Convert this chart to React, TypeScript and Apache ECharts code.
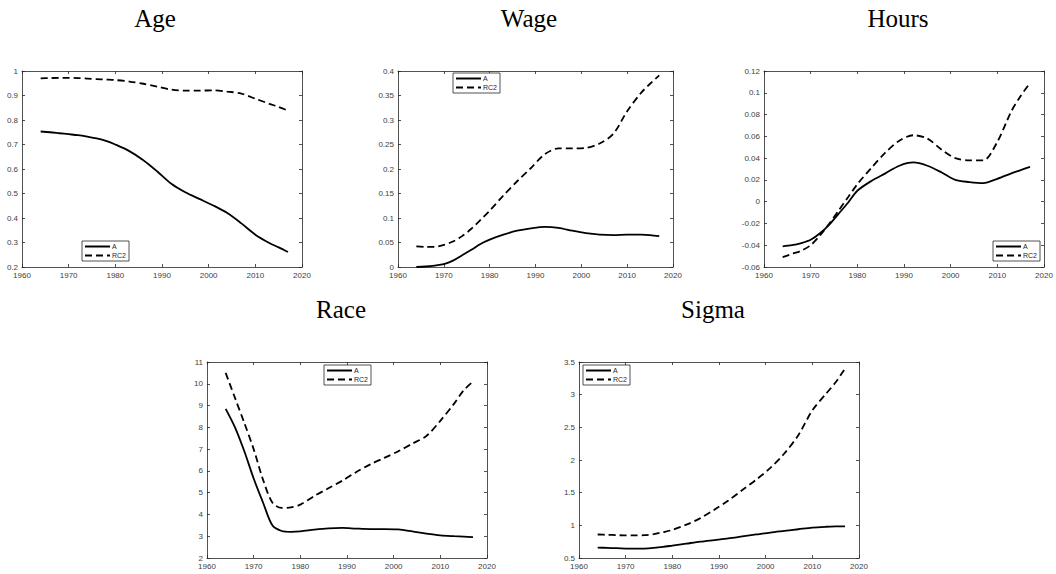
import React, { useEffect, useRef } from "react";
import * as echarts from "echarts";

const years = [1964, 1966, 1968, 1970, 1972, 1974, 1976, 1978, 1980, 1983, 1986, 1989, 1992, 1995, 1998, 2001, 2004, 2007, 2010, 2013, 2015, 2017];

const ageA = [0.753, 0.75, 0.746, 0.742, 0.738, 0.732, 0.725, 0.715, 0.7, 0.673, 0.636, 0.59, 0.54, 0.505, 0.478, 0.451, 0.42, 0.378, 0.332, 0.298, 0.28, 0.261];
const ageRC2 = [0.97, 0.971, 0.972, 0.972, 0.971, 0.969, 0.967, 0.965, 0.963, 0.957, 0.948, 0.936, 0.924, 0.92, 0.92, 0.921, 0.916, 0.908, 0.887, 0.866, 0.853, 0.838];
const wageA = [0.0, 0.001, 0.003, 0.006, 0.013, 0.024, 0.035, 0.047, 0.056, 0.066, 0.074, 0.079, 0.082, 0.08, 0.074, 0.069, 0.066, 0.065, 0.066, 0.066, 0.065, 0.063];
const wageRC2 = [0.042, 0.041, 0.041, 0.045, 0.052, 0.063, 0.078, 0.096, 0.115, 0.146, 0.175, 0.202, 0.23, 0.242, 0.242, 0.243, 0.252, 0.272, 0.318, 0.355, 0.374, 0.391];
const hoursA = [-0.041, -0.04, -0.038, -0.035, -0.029, -0.021, -0.011, -0.001, 0.01, 0.019, 0.026, 0.033, 0.036, 0.033, 0.027, 0.02, 0.018, 0.017, 0.021, 0.026, 0.029, 0.032];
const hoursRC2 = [-0.051, -0.048, -0.045, -0.04, -0.031, -0.02, -0.008, 0.004, 0.016, 0.031, 0.045, 0.056, 0.061, 0.058, 0.048, 0.04, 0.038, 0.038, 0.055, 0.083, 0.097, 0.109];
const raceA = [8.85, 8.0, 6.9, 5.65, 4.55, 3.5, 3.24, 3.2, 3.22, 3.3, 3.36, 3.38, 3.35, 3.33, 3.33, 3.31, 3.22, 3.12, 3.04, 3.0, 2.98, 2.96];
const raceRC2 = [10.5, 9.35, 8.2, 7.0, 5.6, 4.55, 4.3, 4.32, 4.45, 4.85, 5.2, 5.55, 5.95, 6.3, 6.6, 6.9, 7.25, 7.6, 8.3, 9.1, 9.7, 10.1];
const sigmaA = [0.66, 0.655, 0.65, 0.645, 0.643, 0.645, 0.655, 0.67, 0.69, 0.72, 0.75, 0.775, 0.8, 0.83, 0.86, 0.89, 0.915, 0.94, 0.965, 0.978, 0.983, 0.985];
const sigmaRC2 = [0.86, 0.855, 0.85, 0.845, 0.845, 0.85, 0.865, 0.895, 0.93, 1.01, 1.11, 1.24, 1.38, 1.54, 1.7, 1.88, 2.1, 2.38, 2.76, 3.02, 3.19, 3.4];

const titles = ["Age", "Wage", "Hours", "Race", "Sigma"];
const seriesNames = ["A", "RC2"];
const xMin = 1960;
const xMax = 2020;
const xStep = 10;
const yMins = [0.2, 0, -0.06, 2, 0.5];
const yMaxs = [1, 0.4, 0.12, 11, 3.5];
const ySteps = [0.1, 0.05, 0.02, 1, 0.5];
const aValues = [ageA, wageA, hoursA, raceA, sigmaA];
const rcValues = [ageRC2, wageRC2, hoursRC2, raceRC2, sigmaRC2];

// layout (pixels)
const grids = [
  { left: 22, top: 71, width: 280, height: 196 },
  { left: 398, top: 71, width: 275, height: 196 },
  { left: 764, top: 71, width: 280, height: 196 },
  { left: 207, top: 362, width: 280, height: 196 },
  { left: 579, top: 362, width: 280, height: 196 },
];
const legendPos = [
  { left: 82, top: 241 },
  { left: 453, top: 73 },
  { left: 993, top: 241 },
  { left: 324, top: 365 },
  { left: 583, top: 365 },
];
const titlePos = [
  { x: 155, y: 18 },
  { x: 529, y: 18 },
  { x: 898, y: 18 },
  { x: 341, y: 309 },
  { x: 713, y: 309 },
];

const AXIS_COLOR = "#262626";
const LABEL_COLOR = "#404040";

export default function App() {
  const ref = useRef<HTMLDivElement>(null);
  useEffect(() => {
    if (!ref.current) return;
    const chart = echarts.init(ref.current, null, { renderer: "svg" });
    const xAxis: any[] = [];
    const yAxis: any[] = [];
    const series: any[] = [];
    const legend: any[] = [];
    const graphic: any[] = [];
    grids.forEach((g, i) => {
      const tick = { show: true, inside: true, length: 3, lineStyle: { color: AXIS_COLOR, width: 0.8 } };
      const line = { show: true, onZero: false, lineStyle: { color: AXIS_COLOR, width: 0.8 } };
      xAxis.push({
        type: "value", gridIndex: i, min: xMin, max: xMax, interval: xStep, position: "bottom",
        axisLine: line, axisTick: tick, splitLine: { show: false },
        axisLabel: {
          fontSize: 8, color: LABEL_COLOR, fontFamily: "Liberation Sans, Arial", margin: 4,
          formatter: (v: number) => String(v),
        },
      });
      xAxis.push({
        type: "value", gridIndex: i, min: xMin, max: xMax, interval: xStep, position: "top",
        axisLine: line, axisTick: tick, splitLine: { show: false }, axisLabel: { show: false },
      });
      yAxis.push({
        type: "value", gridIndex: i, min: yMins[i], max: yMaxs[i], interval: ySteps[i], position: "left",
        axisLine: line, axisTick: tick, splitLine: { show: false },
        axisLabel: { fontSize: 8, color: LABEL_COLOR, fontFamily: "Liberation Sans, Arial", margin: 4 },
      });
      yAxis.push({
        type: "value", gridIndex: i, min: yMins[i], max: yMaxs[i], interval: ySteps[i], position: "right",
        axisLine: line, axisTick: tick, splitLine: { show: false }, axisLabel: { show: false },
      });
      [aValues[i], rcValues[i]].forEach((vals, k) => {
        series.push({
          type: "line",
          name: seriesNames[k],
          xAxisIndex: 2 * i,
          yAxisIndex: 2 * i,
          data: years.map((yr, j) => [yr, vals[j]]),
          smooth: 0.3,
          symbol: "none",
          showSymbol: false,
          lineStyle: { color: "#000", width: 1.8, type: k === 0 ? "solid" : [7, 4] },
          itemStyle: { color: "#000" },
          z: 3,
        });
      });
      legend.push({
        data: seriesNames,
        orient: "vertical",
        left: legendPos[i].left,
        top: legendPos[i].top,
        padding: [2, 3, 2, 2],
        itemGap: 2,
        itemWidth: 25,
        itemHeight: 8,
        borderColor: AXIS_COLOR,
        borderWidth: 0.8,
        borderRadius: 0,
        backgroundColor: "#fff",
        selectedMode: false,
        itemStyle: { opacity: 0, color: "transparent", borderWidth: 0 },
        lineStyle: { opacity: 1 },
        textStyle: { fontSize: 7, color: AXIS_COLOR, fontFamily: "Liberation Sans, Arial", padding: [0, 0, 0, -3] },
      });
      graphic.push({
        type: "text",
        x: titlePos[i].x,
        y: titlePos[i].y,
        style: {
          text: titles[i],
          font: "25px 'Liberation Serif', serif",
          fill: "#000",
          textAlign: "center",
          textVerticalAlign: "middle",
        },
      });
    });
    chart.setOption({
      animation: false,
      backgroundColor: "#fff",
      grid: grids.map((g) => ({ ...g })),
      xAxis,
      yAxis,
      series,
      legend,
      graphic,
    });
    return () => chart.dispose();
  }, []);
  return (
    <div
      ref={ref}
      style={{ position: "absolute", left: 0, top: 0, width: 1056, height: 574, background: "#fff" }}
    />
  );
}
